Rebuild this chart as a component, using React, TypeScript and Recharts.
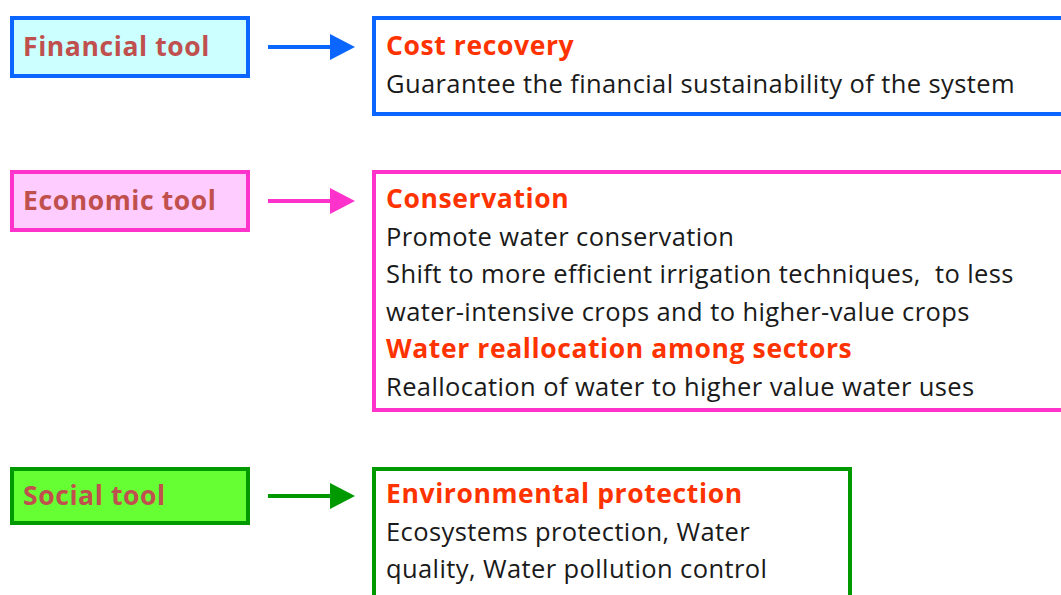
import React from "react";
import { ComposedChart, XAxis, YAxis, ReferenceArea, Customized } from "recharts";

// ---- content ----
const toolNames = ["Financial tool", "Economic tool", "Social tool"];
const headings: string[][] = [
  ["Cost recovery"],
  ["Conservation", "Water reallocation among sectors"],
  ["Environmental protection"],
];
const bodyLines: string[][][] = [
  [["Guarantee the financial sustainability of the system"]],
  [
    [
      "Promote water conservation",
      "Shift to more efficient irrigation techniques,  to less",
      "water-intensive crops and to higher-value crops",
    ],
    ["Reallocation of water to higher value water uses"],
  ],
  [["Ecosystems protection, Water", "quality, Water pollution control"]],
];

// ---- layout & style ----
const W = 1061;
const H = 595;
const FONT = "'Open Sans', Lato, sans-serif";
const strokes = ["#0a66ff", "#ff33cc", "#009900"];
const fills = ["#ccffff", "#ffccff", "#66ff33"];
const toolBoxY = [[18, 76], [172, 230], [469, 523]];
const descBox = [
  { x1: 374, x2: 1080, y1: 18, y2: 114 },
  { x1: 374, x2: 1080, y1: 172, y2: 410 },
  { x1: 374, x2: 850, y1: 469, y2: 640 },
];
const firstOffset = [37, 36, 34];
const LINE = 37.6;
const HEAD_COLOR = "#ff3300";
const TOOL_COLOR = "#c0504d";
const BODY_COLOR = "#1a1a1a";
const BOLD_SIZE = 26.5;
const BOLD_SPACING = 0.6;
const BODY_SIZE = 25.5;
const BODY_SPACING = 0.4;

const toolLabel = (i: number) => (props: any) => {
  const vb = props.viewBox || {};
  return (
    <text x={vb.x + 11} y={vb.y + vb.height / 2 + 9} fontFamily={FONT} fontWeight={700} fontSize={BOLD_SIZE} letterSpacing={BOLD_SPACING} fill={TOOL_COLOR}>
      {toolNames[i]}
    </text>
  );
};

const descLabel = (i: number) => (props: any) => {
  const vb = props.viewBox || {};
  const x = vb.x + 12;
  const y0 = vb.y + firstOffset[i];
  const items: React.ReactNode[] = [];
  let row = 0;
  headings[i].forEach((h, j) => {
    items.push(
      <text key={`h${j}`} x={x} y={y0 + row * LINE} fontFamily={FONT} fontWeight={700} fontSize={BOLD_SIZE} letterSpacing={BOLD_SPACING} fill={HEAD_COLOR}>
        {h}
      </text>
    );
    row++;
    bodyLines[i][j].forEach((b, k) => {
      items.push(
        <text key={`b${j}${k}`} x={x} y={y0 + row * LINE} fontFamily={FONT} fontSize={BODY_SIZE} letterSpacing={BODY_SPACING} fill={BODY_COLOR} style={{ whiteSpace: "pre" }}>
          {b}
        </text>
      );
      row++;
    });
  });
  return <g>{items}</g>;
};

function Arrows() {
  return (
    <g>
      {toolNames.map((_, i) => {
        const cy = (toolBoxY[i][0] + toolBoxY[i][1]) / 2;
        return (
          <g key={`a${i}`}>
            <line x1={268} y1={cy} x2={334} y2={cy} stroke={strokes[i]} strokeWidth={4} />
            <polygon points={`${330},${cy - 13} ${355},${cy} ${330},${cy + 13}`} fill={strokes[i]} />
          </g>
        );
      })}
    </g>
  );
}

export default function App() {
  return (
    <div style={{ position: "absolute", left: 0, top: 0, width: W, height: H, background: "#fff", overflow: "hidden" }}>
      <ComposedChart width={W} height={H} data={[{ x: 0, y: 0 }]} margin={{ top: 0, right: 0, bottom: 0, left: 0 }}>
        <XAxis type="number" dataKey="x" domain={[0, W]} hide allowDataOverflow />
        <YAxis type="number" dataKey="y" domain={[0, H]} reversed hide allowDataOverflow />
        {toolNames.map((_, i) => (
          <ReferenceArea
            key={`tb${i}`}
            x1={12}
            x2={248}
            y1={toolBoxY[i][0]}
            y2={toolBoxY[i][1]}
            fill={fills[i]}
            fillOpacity={1}
            stroke={strokes[i]}
            strokeWidth={4}
            ifOverflow="visible"
            label={toolLabel(i)}
          />
        ))}
        {descBox.map((b, i) => (
          <ReferenceArea
            key={`db${i}`}
            x1={b.x1}
            x2={b.x2}
            y1={b.y1}
            y2={b.y2}
            fill="#ffffff"
            fillOpacity={1}
            stroke={strokes[i]}
            strokeWidth={4}
            ifOverflow="visible"
            label={descLabel(i)}
          />
        ))}
        <Customized component={Arrows} />
      </ComposedChart>
    </div>
  );
}
